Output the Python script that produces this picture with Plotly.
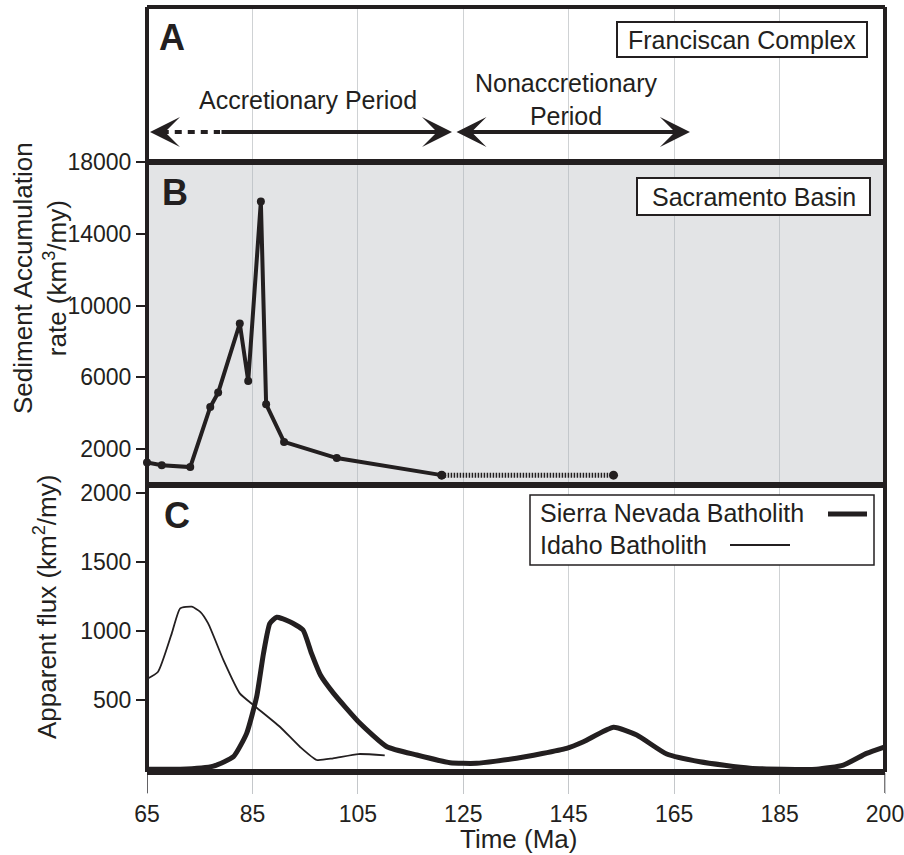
import plotly.graph_objects as go

# ---------------- data ----------------
time_ticks = [65, 85, 105, 125, 145, 165, 185, 205]
time_tick_labels = ["65", "85", "105", "125", "145", "165", "185", "200"]

sac_time = [65, 67.8, 73.2, 77.0, 78.5, 82.6, 84.2, 86.6, 87.6, 91.0, 101.0, 120.9]
sac_rate = [1250, 1100, 1000, 4350, 5150, 9000, 5800, 15800, 4500, 2400, 1500, 550]
sac_gap_time = [120.9, 153.5]
sac_gap_rate = [550, 550]

sierra_time = [65, 71.3, 77.6, 81.4, 83.9, 85.8, 87.1, 88.3, 89.6, 92.1, 94.6, 96.2, 97.9,
               100.4, 105.4, 110.5, 116.2, 122.5, 127.5, 135.1, 144.6, 147.8, 153.5, 157.9,
               163.6, 169.9, 179.4, 192.0, 197.1, 201.5, 205]
sierra_flux = [0, 0, 23, 91, 260, 525, 840, 1057, 1101, 1069, 1009, 840, 683,
               550, 333, 163, 103, 47, 43, 79, 151, 199, 304, 248,
               110, 54, 7, 0, 30, 115, 163]

idaho_time = [65, 67.1, 69.7, 71.3, 73.5, 75.1, 76.6, 79.5, 82.6, 85.2, 90.2, 94.0, 97.2,
              100.3, 105.1, 110.1]
idaho_flux = [654, 707, 985, 1166, 1178, 1141, 1057, 791, 550, 465, 308, 163, 67,
              79, 110, 101]

sed_ticks = [2000, 6000, 10000, 14000, 18000]
flux_ticks = [500, 1000, 1500, 2000]

# ---------------- layout helpers ----------------
W, H = 904, 855
L, R, T, B = 147, 885, 7, 772
INK = "#231f20"
FONT = "Liberation Sans, Arial, Helvetica, sans-serif"


def px(x):
    return (x - L) / (R - L)


def py(y):
    return (B - y) / (B - T)


dC = [0, py(485)]
dB = [py(485), py(162)]
dA = [py(162), 1]

fig = go.Figure()

fig.add_trace(go.Scatter(x=sierra_time, y=sierra_flux, mode="lines",
                         line=dict(color=INK, width=5, shape="spline", smoothing=0.5),
                         xaxis="x", yaxis="y", showlegend=False, hoverinfo="skip"))
fig.add_trace(go.Scatter(x=idaho_time, y=idaho_flux, mode="lines",
                         line=dict(color=INK, width=1.8, shape="spline", smoothing=0.5),
                         xaxis="x", yaxis="y", showlegend=False, hoverinfo="skip"))
fig.add_trace(go.Scatter(x=sac_gap_time, y=sac_gap_rate, mode="lines+markers",
                         line=dict(color=INK, width=5, dash="1.5px,1.5px"),
                         marker=dict(size=9, color=INK),
                         xaxis="x2", yaxis="y2", showlegend=False, cliponaxis=False,
                         hoverinfo="skip"))
fig.add_trace(go.Scatter(x=sac_time, y=sac_rate, mode="lines+markers",
                         line=dict(color=INK, width=4),
                         marker=dict(size=8, color=INK),
                         xaxis="x2", yaxis="y2", showlegend=False, cliponaxis=False,
                         hoverinfo="skip"))
fig.add_trace(go.Scatter(x=[65], y=[0.5], mode="markers", marker=dict(opacity=0),
                         xaxis="x3", yaxis="y3", showlegend=False, hoverinfo="skip"))

xcommon = dict(range=[65, 205], tickvals=time_ticks, showgrid=True, zeroline=False,
               showline=False, automargin=False)
ycommon = dict(ticks="outside", ticklen=10, tickwidth=1.5, tickcolor=INK, showgrid=False,
               zeroline=False, showline=False, tickformat="d", automargin=False,
               tickfont=dict(size=23, color=INK))
fig.update_layout(
    template="none",
    width=W, height=H, autosize=False,
    margin=dict(l=L, r=W - R, t=T, b=H - B, pad=0, autoexpand=False),
    paper_bgcolor="white", plot_bgcolor="white",
    font=dict(family=FONT, color=INK, size=22),
    showlegend=False,
    xaxis=dict(**xcommon, anchor="y", ticktext=time_tick_labels, ticks="outside",
               ticklen=21, tickwidth=1, tickcolor="#c4c7ca", gridcolor="#cfd2d4",
               gridwidth=1, tickfont=dict(size=23, color=INK), ticklabeloverflow="allow"),
    xaxis2=dict(**xcommon, anchor="y2", matches="x", showticklabels=False, ticks="",
                gridcolor="#c3c7cb", gridwidth=1),
    xaxis3=dict(**xcommon, anchor="y3", matches="x", showticklabels=False, ticks="",
                gridcolor="#cfd2d4", gridwidth=1),
    yaxis=dict(**ycommon, domain=dC, range=[-20, 2060], tickvals=flux_ticks, anchor="x"),
    yaxis2=dict(**ycommon, domain=dB, range=[0, 18000], tickvals=sed_ticks, anchor="x2"),
    yaxis3=dict(domain=dA, range=[0, 1], showticklabels=False, showgrid=False, ticks="",
                zeroline=False, showline=False, anchor="x3", automargin=False),
)

shapes = []
# gray background of panel B
shapes.append(dict(type="rect", xref="x2 domain", yref="y2 domain", x0=0, x1=1, y0=0, y1=1,
                   fillcolor="#e3e4e6", line=dict(width=0), layer="below"))
# frame lines
shapes.append(dict(type="line", xref="paper", yref="paper", x0=0, x1=0, y0=0, y1=1,
                   line=dict(color=INK, width=4)))
shapes.append(dict(type="line", xref="paper", yref="paper", x0=1, x1=1, y0=0, y1=1,
                   line=dict(color=INK, width=4)))
shapes.append(dict(type="line", xref="paper", yref="paper", x0=0, x1=1, y0=1, y1=1,
                   line=dict(color=INK, width=4)))
for yy in [0, dC[1], dB[1]]:
    shapes.append(dict(type="line", xref="paper", yref="paper", x0=0, x1=1, y0=yy, y1=yy,
                       line=dict(color=INK, width=6)))
# dark ticks at axis ends
for xv in [65, 205]:
    shapes.append(dict(type="line", xref="x", yref="paper", x0=xv, x1=xv, y0=0,
                       y1=py(793), line=dict(color=INK, width=1.2)))
# label boxes
for (x0, x1, y0, y1, w) in [(617, 867, 22, 57, 2), (637, 870, 178, 215, 2),
                            (530, 874, 495, 565, 1.5)]:
    shapes.append(dict(type="rect", xref="paper", yref="paper", x0=px(x0), x1=px(x1),
                       y0=py(y1), y1=py(y0), fillcolor="white",
                       line=dict(color=INK, width=w)))
# legend samples
shapes.append(dict(type="line", xref="paper", yref="paper", x0=px(828), x1=px(867),
                   y0=py(514), y1=py(514), line=dict(color=INK, width=5)))
shapes.append(dict(type="line", xref="paper", yref="paper", x0=px(730), x1=px(790),
                   y0=py(545), y1=py(545), line=dict(color=INK, width=1.8)))
# dashed part of the accretionary arrow
shapes.append(dict(type="line", xref="x3", yref="y3", x0=67.8, x1=78.85, y0=0.194, y1=0.194,
                   line=dict(color=INK, width=4, dash="7px,6px")))
fig.update_layout(shapes=shapes)

ann = []


def txt(x, y, s, size=25, xanchor="center", yanchor="middle", angle=0):
    ann.append(dict(x=px(x), y=py(y), xref="paper", yref="paper", text=s, showarrow=False,
                    xanchor=xanchor, yanchor=yanchor, textangle=angle,
                    font=dict(family=FONT, size=size, color=INK)))


txt(172, 38, "<b>A</b>", size=36)
txt(175, 192, "<b>B</b>", size=36)
txt(177, 515, "<b>C</b>", size=36)
txt(742, 40, "Franciscan Complex", size=25)
txt(753.5, 197, "Sacramento Basin", size=25)
txt(538, 513, "Sierra Nevada Batholith", size=25, xanchor="left")
txt(538, 545, "Idaho Batholith", size=25, xanchor="left")
txt(308, 100, "Accretionary Period", size=25)
txt(566, 99, "Nonaccretionary<br>Period", size=25)
txt(518, 839, "Time (Ma)", size=26)
txt(40, 278, "Sediment Accumulation<br>rate (km<sup>3</sup>/my)", size=26, angle=-90)
txt(45, 607, "Apparent flux (km<sup>2</sup>/my)", size=26, angle=-90)

# arrows in panel A
arrow_common = dict(xref="x3", yref="y3", axref="x3", ayref="y3", text="", showarrow=True,
                    arrowhead=3, arrowsize=1.25, arrowwidth=4, arrowcolor=INK)
ann.append(dict(**arrow_common, x=122.86, y=0.194, ax=78.85, ay=0.194, arrowside="end"))
ann.append(dict(**arrow_common, x=65.57, y=0.194, ax=69.0, ay=0.194, arrowside="end"))
ann.append(dict(**arrow_common, x=168.0, y=0.194, ax=123.43, ay=0.194,
                arrowside="end+start"))
fig.update_layout(annotations=ann)

fig.write_html("out.html", config={"displayModeBar": False},
               post_script="document.body.style.margin='0px';")
